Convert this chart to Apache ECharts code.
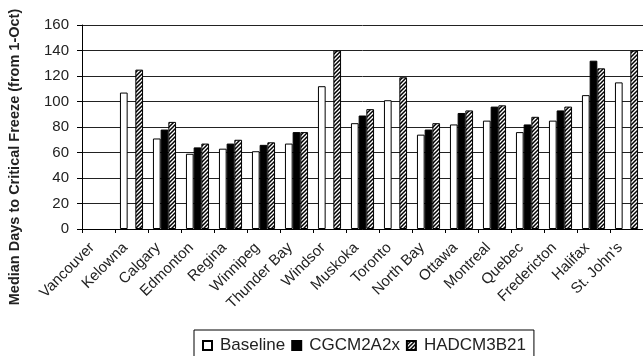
<!DOCTYPE html>
<html>
<head>
<meta charset="utf-8">
<script src="https://cdn.jsdelivr.net/npm/echarts@6/dist/echarts.min.js"></script>
<style>
  html, body { margin: 0; padding: 0; background: #fff; }
  #chart { width: 643px; height: 356px; }
</style>
</head>
<body>
<div id="chart"></div>
<script>
// Median days to critical freeze, by station and scenario
const cities = ['Vancouver', 'Kelowna', 'Calgary', 'Edmonton', 'Regina', 'Winnipeg',
  'Thunder Bay', 'Windsor', 'Muskoka', 'Toronto', 'North Bay', 'Ottawa', 'Montreal',
  'Quebec', 'Fredericton', 'Halifax', "St. John's"];
const baseline = [null, 107, 71, 59, 63, 61, 67, 112, 83, 101, 74, 82, 85, 76, 85, 105, 115];
const cgcm2a2x = [null, null, 78, 64, 67, 66, 76, null, 89, null, 78, 91, 96, 82, 93, 132, null];
const hadcm3b21 = [null, 125, 84, 67, 70, 68, 76, 140, 94, 119, 83, 93, 97, 88, 96, 126, 140];
const seriesNames = ['Baseline', 'CGCM2A2x', 'HADCM3B21'];
const yTitle = 'Median Days to Critical Freeze (from 1-Oct)';

const FONT = '"Liberation Sans", Arial, sans-serif';
const INK = '#222';

// diagonal hatch tile for the HADCM3B21 bars
function hatchTile() {
  const s = 4;
  const c = document.createElement('canvas');
  c.width = s; c.height = s;
  const g = c.getContext('2d');
  g.fillStyle = '#fff';
  g.fillRect(0, 0, s, s);
  g.strokeStyle = '#000';
  g.lineWidth = 1.5;
  g.beginPath();
  g.moveTo(-1, s + 1); g.lineTo(s + 1, -1);
  g.moveTo(-1, 1); g.lineTo(1, -1);
  g.moveTo(s - 1, s + 1); g.lineTo(s + 1, s - 1);
  g.stroke();
  return c;
}

const chart = echarts.init(document.getElementById('chart'), null, { renderer: 'canvas' });

const barBase = { type: 'bar', barGap: '0%', barCategoryGap: '30%' };

chart.setOption({
  animation: false,
  textStyle: { fontFamily: FONT, color: INK },
  grid: { left: 82, top: 25, right: -2, bottom: 127, containLabel: false },
  legend: {
    left: 194, top: 330,
    padding: [7, 8, 8, 8],
    borderColor: '#000', borderWidth: 1,
    itemWidth: 9, itemHeight: 9, itemGap: 6,
    icon: 'rect',
    textStyle: { fontFamily: FONT, fontSize: 17, color: INK, padding: [0, 0, 0, 3] },
    data: seriesNames
  },
  xAxis: {
    type: 'category',
    data: cities,
    axisLine: { lineStyle: { color: '#000', width: 1 } },
    axisTick: { show: true, length: 4, lineStyle: { color: '#000' } },
    axisLabel: {
      rotate: 45, interval: 0, fontSize: 15, color: INK, margin: 10,
      padding: [0, 9, 0, 0], fontFamily: FONT
    }
  },
  yAxis: {
    type: 'value',
    min: 0, max: 160, interval: 20,
    axisLine: { show: true, lineStyle: { color: '#000', width: 1 } },
    axisTick: { show: true, length: 5, lineStyle: { color: '#000' } },
    axisLabel: { fontSize: 15, color: INK, margin: 13, fontFamily: FONT },
    splitLine: { lineStyle: { color: '#222', width: 1 } }
  },
  graphic: [{
    type: 'text',
    x: 15, y: 157,
    rotation: Math.PI / 2,
    style: {
      text: yTitle,
      fontFamily: FONT, fontSize: 14.5, fontWeight: 'bold',
      fill: INK, align: 'center', verticalAlign: 'middle'
    }
  }],
  series: [
    Object.assign({}, barBase, {
      name: seriesNames[0], data: baseline,
      itemStyle: { color: '#fff', borderColor: '#000', borderWidth: 1 }
    }),
    Object.assign({}, barBase, {
      name: seriesNames[1], data: cgcm2a2x,
      itemStyle: { color: '#000', borderColor: '#000', borderWidth: 1 }
    }),
    Object.assign({}, barBase, {
      name: seriesNames[2], data: hadcm3b21,
      itemStyle: { color: { image: hatchTile(), repeat: 'repeat' }, borderColor: '#000', borderWidth: 1 }
    })
  ]
});
</script>
</body>
</html>
